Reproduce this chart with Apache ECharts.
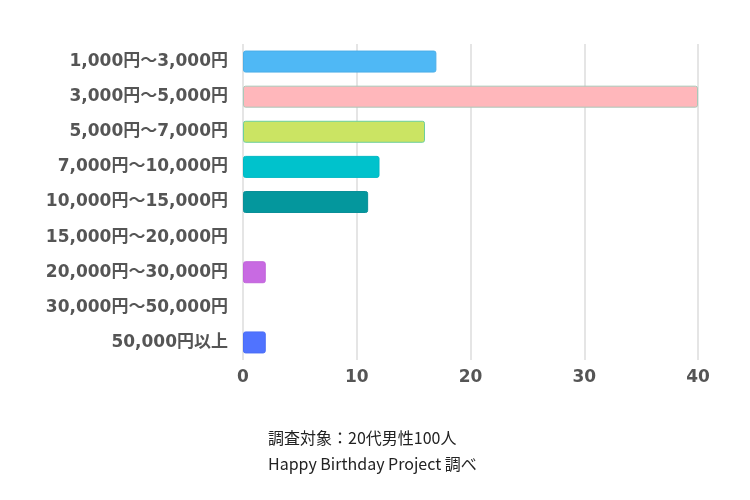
<!DOCTYPE html>
<html>
<head>
<meta charset="utf-8">
<script src="https://cdn.jsdelivr.net/npm/echarts@6/dist/echarts.min.js"></script>
<style>
  html, body { margin: 0; padding: 0; background: #fff; }
  #chart { width: 750px; height: 500px; }
</style>
</head>
<body>
<div id="chart"></div>
<script>
// 予算の区分（上から順）
const categories = [
  "1,000円～3,000円",
  "3,000円～5,000円",
  "5,000円～7,000円",
  "7,000円～10,000円",
  "10,000円～15,000円",
  "15,000円～20,000円",
  "20,000円～30,000円",
  "30,000円～50,000円",
  "50,000円以上",
];
// 人数
const values = [17, 40, 16, 12, 11, 0, 2, 0, 2];
const barColors = [
  "#4fb8f5", "#ffb7bb", "#cbe463", "#00c2cc",
  "#04979d", "#c86ae2", "#c86ae2", "#5073ff", "#5073ff",
];
const borderColors = [
  "#4aaee8", "#a9c9b9", "#6ccf9c", "#00b8c4",
  "#0a8f98", "#c064da", "#c064da", "#4a6ef5", "#4a6ef5",
];
const xTicks = [0, 10, 20, 30, 40];
const notes = ["調査対象：20代男性100人", "Happy Birthday Project 調べ"];

const chart = echarts.init(document.getElementById("chart"));
const labelFont = '"DejaVu Sans", "Noto Sans CJK JP", sans-serif';
const noteFont = '"Noto Sans CJK JP", sans-serif';

chart.setOption({
  animation: false,
  grid: { left: 243, right: 52, top: 44, height: 316 },
  xAxis: {
    type: "value",
    min: xTicks[0],
    max: xTicks[xTicks.length - 1],
    interval: 10,
    axisLine: { show: false },
    axisTick: { show: false },
    splitLine: { lineStyle: { color: "#dcdcdc", width: 1.5 } },
    axisLabel: {
      color: "#555",
      fontSize: 17,
      fontWeight: "bold",
      fontFamily: labelFont,
      margin: 9,
    },
  },
  yAxis: {
    type: "category",
    inverse: true,
    data: categories,
    axisLine: { show: false },
    axisTick: { show: false },
    axisLabel: {
      color: "#555",
      fontSize: 17,
      fontWeight: "bold",
      fontFamily: labelFont,
      margin: 15,
    },
  },
  series: [
    {
      type: "bar",
      barWidth: 22,
      data: values.map((v, i) => ({
        value: v,
        itemStyle: {
          color: barColors[i],
          borderColor: borderColors[i],
          borderWidth: v > 0 ? 1 : 0,
          borderRadius: 2,
        },
      })),
    },
  ],
  graphic: notes.map((t, i) => ({
    type: "text",
    left: 268,
    top: 430 + i * 26,
    style: {
      text: t,
      fill: "#222",
      fontSize: 16,
      fontFamily: noteFont,
    },
  })),
});
</script>
</body>
</html>
